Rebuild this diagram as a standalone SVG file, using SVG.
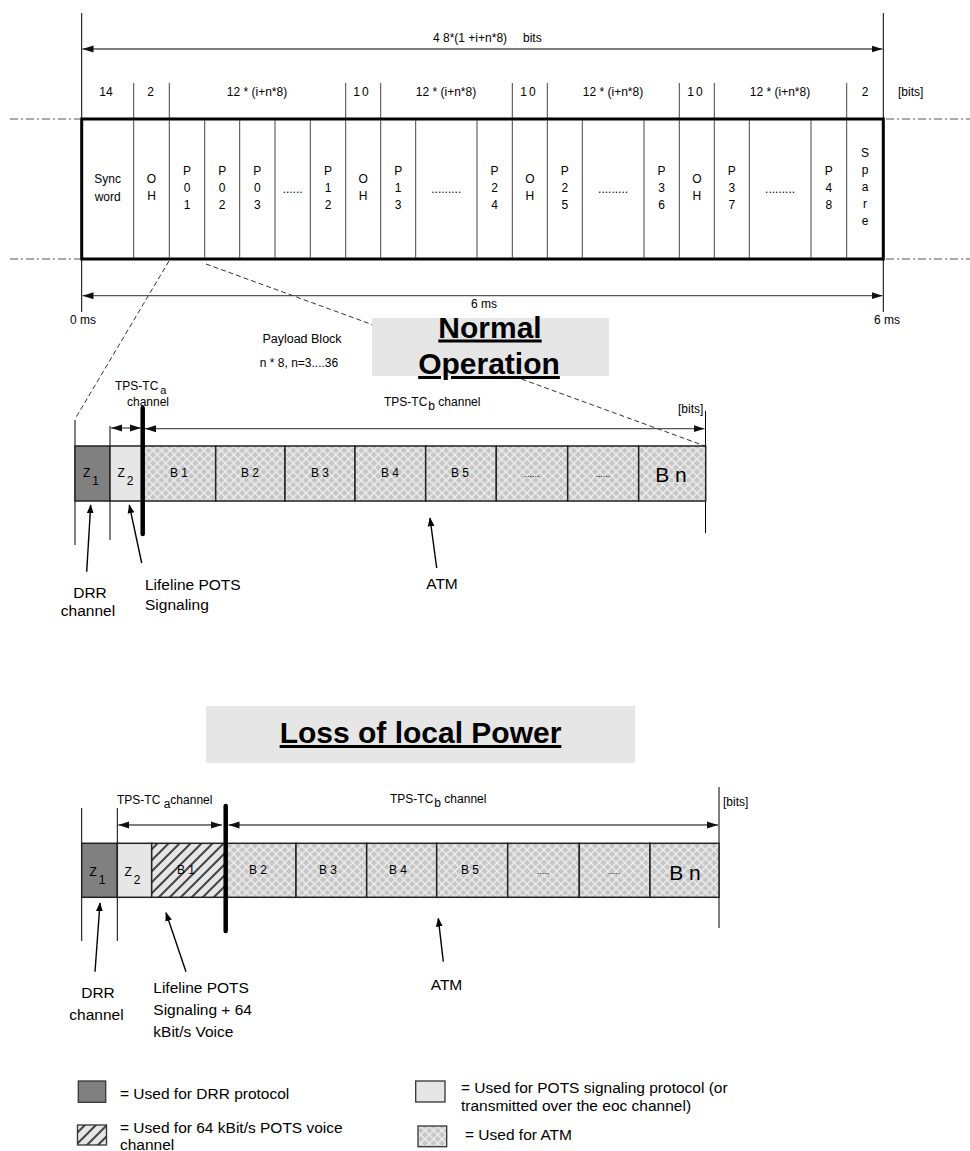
<svg xmlns="http://www.w3.org/2000/svg" width="970" height="1151" viewBox="0 0 970 1151">
<style>
text{font-family:"Liberation Sans",Arial,sans-serif;fill:#000}
.s12{font-size:12px}
.s15{font-size:15.5px}
.mid{text-anchor:middle}
.title{font-size:30px;font-weight:bold;text-decoration:underline;text-anchor:middle}
.thin{stroke:#444;stroke-width:1;fill:none}
.blk{stroke:#000;stroke-width:1;fill:none}
.dim{stroke:#555;stroke-width:1.3;fill:none;marker-end:url(#ah);marker-start:url(#ah)}
.dd{stroke:#555;stroke-width:1;stroke-dasharray:8 3 2 3;fill:none}
.dash{stroke:#333;stroke-width:1;stroke-dasharray:5 3;fill:none}
.ptr{stroke:#000;stroke-width:1.4;fill:none;marker-end:url(#ph)}
.cell{stroke:#222;stroke-width:1.5}
.thick{stroke:#000;stroke-width:4.5;stroke-linecap:round}
</style>
<defs>
<marker id="ah" markerUnits="userSpaceOnUse" markerWidth="12" markerHeight="8" refX="11" refY="4" orient="auto-start-reverse"><path d="M0,0.5 L11,4 L0,7.5 z" fill="#111"/></marker>
<marker id="ph" markerUnits="userSpaceOnUse" markerWidth="9" markerHeight="12" refX="11" refY="4.5" orient="auto" viewBox="0 0 12 9"><path d="M0,0 L12,4.5 L0,9 z" fill="#000"/></marker>
<pattern id="atm" patternUnits="userSpaceOnUse" width="8.5" height="8.5">
<rect width="8.5" height="8.5" fill="#c6c6c6"/>
<path d="M-1,-1 L9.5,9.5 M9.5,-1 L-1,9.5" stroke="#eeeeee" stroke-width="1.5"/>
</pattern>
<pattern id="hatch" patternUnits="userSpaceOnUse" width="11" height="11">
<rect width="11" height="11" fill="#e6e6e6"/>
<path d="M-1,12 L12,-1 M-3,3 L3,-3 M8,14 L14,8" stroke="#444" stroke-width="2"/>
</pattern>
</defs>
<rect width="970" height="1151" fill="#fff"/>

<g id="frame-dimensions">
<line class="blk" x1="81.7" y1="13" x2="81.7" y2="312"/>
<line class="blk" x1="883.3" y1="13" x2="883.3" y2="312"/>
<line class="dim" x1="82.5" y1="49" x2="882.5" y2="49"/>
<text class="s12" x="433" y="42">4 8*(1 +i+n*8)</text>
<text class="s12" x="523" y="42">bits</text>
<line class="dd" x1="10" y1="119" x2="80" y2="119"/>
<line class="dd" x1="10" y1="259" x2="80" y2="259"/>
<line class="dd" x1="886" y1="119" x2="970" y2="119"/>
<line class="dd" x1="886" y1="259" x2="970" y2="259"/>
<line class="dim" x1="82.5" y1="295.7" x2="882.5" y2="295.7"/>
<text class="s12 mid" x="484" y="308">6 ms</text>
<text class="s12 mid" x="83" y="324">0 ms</text>
<text class="s12 mid" x="887" y="324">6 ms</text>
</g>

<g id="frame-header">
<g class="thin">
<line x1="133.7" y1="83" x2="133.7" y2="119"/>
<line x1="169.3" y1="83" x2="169.3" y2="119"/>
<line x1="345.7" y1="83" x2="345.7" y2="119"/>
<line x1="380.7" y1="83" x2="380.7" y2="119"/>
<line x1="512.3" y1="83" x2="512.3" y2="119"/>
<line x1="547.3" y1="83" x2="547.3" y2="119"/>
<line x1="679.3" y1="83" x2="679.3" y2="119"/>
<line x1="714.3" y1="83" x2="714.3" y2="119"/>
<line x1="846.7" y1="83" x2="846.7" y2="119"/>
</g>
<text class="s12 mid" x="106" y="96">14</text>
<text class="s12 mid" x="150.5" y="96">2</text>
<text class="s12 mid" x="257" y="96">12 * (i+n*8)</text>
<text class="s12 mid" x="362" y="96" letter-spacing="2">10</text>
<text class="s12 mid" x="446" y="96">12 * (i+n*8)</text>
<text class="s12 mid" x="529" y="96" letter-spacing="2">10</text>
<text class="s12 mid" x="613" y="96">12 * (i+n*8)</text>
<text class="s12 mid" x="696" y="96" letter-spacing="2">10</text>
<text class="s12 mid" x="780" y="96">12 * (i+n*8)</text>
<text class="s12 mid" x="865" y="96">2</text>
<text class="s12" x="898" y="96">[bits]</text>
</g>

<g id="frame">
<rect x="81.7" y="119" width="801.6" height="140" fill="#fff" stroke="#000" stroke-width="3"/>
<g class="thin">
<line x1="133.7" y1="120" x2="133.7" y2="258"/>
<line x1="169.3" y1="120" x2="169.3" y2="258"/>
<line x1="204.7" y1="120" x2="204.7" y2="258"/>
<line x1="239.7" y1="120" x2="239.7" y2="258"/>
<line x1="275" y1="120" x2="275" y2="258"/>
<line x1="310.3" y1="120" x2="310.3" y2="258"/>
<line x1="345.7" y1="120" x2="345.7" y2="258"/>
<line x1="380.7" y1="120" x2="380.7" y2="258"/>
<line x1="415.7" y1="120" x2="415.7" y2="258"/>
<line x1="477" y1="120" x2="477" y2="258"/>
<line x1="512.3" y1="120" x2="512.3" y2="258"/>
<line x1="547.3" y1="120" x2="547.3" y2="258"/>
<line x1="582.3" y1="120" x2="582.3" y2="258"/>
<line x1="644" y1="120" x2="644" y2="258"/>
<line x1="679.3" y1="120" x2="679.3" y2="258"/>
<line x1="714.3" y1="120" x2="714.3" y2="258"/>
<line x1="749.3" y1="120" x2="749.3" y2="258"/>
<line x1="811" y1="120" x2="811" y2="258"/>
<line x1="846.7" y1="120" x2="846.7" y2="258"/>
</g>
</g>
<g id="cell-sync" class="s12"><text class="mid" x="107.7" y="183">Sync</text><text class="mid" x="107.7" y="201">word</text></g>
<g id="cell-oh1"><text class="s12 mid" x="151.5" y="183">O</text><text class="s12 mid" x="151.5" y="200">H</text></g>
<g id="cell-p01"><text class="s12 mid" x="187" y="175">P</text><text class="s12 mid" x="187" y="192">0</text><text class="s12 mid" x="187" y="209">1</text></g>
<g id="cell-p02"><text class="s12 mid" x="222.2" y="175">P</text><text class="s12 mid" x="222.2" y="192">0</text><text class="s12 mid" x="222.2" y="209">2</text></g>
<g id="cell-p03"><text class="s12 mid" x="257.3" y="175">P</text><text class="s12 mid" x="257.3" y="192">0</text><text class="s12 mid" x="257.3" y="209">3</text></g>
<g id="cell-dots1"><text class="s12 mid" x="292.6" y="193">......</text></g>
<g id="cell-p12"><text class="s12 mid" x="328" y="175">P</text><text class="s12 mid" x="328" y="192">1</text><text class="s12 mid" x="328" y="209">2</text></g>
<g id="cell-oh2"><text class="s12 mid" x="363.2" y="183">O</text><text class="s12 mid" x="363.2" y="200">H</text></g>
<g id="cell-p13"><text class="s12 mid" x="398.2" y="175">P</text><text class="s12 mid" x="398.2" y="192">1</text><text class="s12 mid" x="398.2" y="209">3</text></g>
<g id="cell-dots2"><text class="s12 mid" x="446.3" y="193">.........</text></g>
<g id="cell-p24"><text class="s12 mid" x="494.6" y="175">P</text><text class="s12 mid" x="494.6" y="192">2</text><text class="s12 mid" x="494.6" y="209">4</text></g>
<g id="cell-oh3"><text class="s12 mid" x="529.8" y="183">O</text><text class="s12 mid" x="529.8" y="200">H</text></g>
<g id="cell-p25"><text class="s12 mid" x="564.8" y="175">P</text><text class="s12 mid" x="564.8" y="192">2</text><text class="s12 mid" x="564.8" y="209">5</text></g>
<g id="cell-dots3"><text class="s12 mid" x="613.1" y="193">.........</text></g>
<g id="cell-p36"><text class="s12 mid" x="661.6" y="175">P</text><text class="s12 mid" x="661.6" y="192">3</text><text class="s12 mid" x="661.6" y="209">6</text></g>
<g id="cell-oh4"><text class="s12 mid" x="696.8" y="183">O</text><text class="s12 mid" x="696.8" y="200">H</text></g>
<g id="cell-p37"><text class="s12 mid" x="731.8" y="175">P</text><text class="s12 mid" x="731.8" y="192">3</text><text class="s12 mid" x="731.8" y="209">7</text></g>
<g id="cell-dots4"><text class="s12 mid" x="780.1" y="193">.........</text></g>
<g id="cell-p48"><text class="s12 mid" x="828.8" y="175">P</text><text class="s12 mid" x="828.8" y="192">4</text><text class="s12 mid" x="828.8" y="209">8</text></g>
<g id="cell-spare"><text class="s12 mid" x="865" y="157">S</text><text class="s12 mid" x="865" y="174">p</text><text class="s12 mid" x="865" y="191">a</text><text class="s12 mid" x="865" y="208">r</text><text class="s12 mid" x="865" y="225">e</text></g>

<g id="zoom-lines">
<line class="dash" x1="169" y1="261" x2="75" y2="419"/>
<line class="dash" x1="206" y1="264" x2="705" y2="446"/>
</g>

<g id="payload-label">
<text class="mid" x="302" y="343" font-size="12.5">Payload Block</text>
<text class="s12 mid" x="299" y="367">n * 8, n=3....36</text>
</g>

<g id="title-normal">
<rect x="372" y="318" width="237" height="58" fill="#e6e6e6"/>
<text class="title" x="490" y="337.5">Normal</text>
<text class="title" x="489" y="374">Operation</text>
</g>

<g id="normal-row">
<line class="blk" x1="75" y1="420" x2="75" y2="545" stroke="#333"/>
<line class="blk" x1="110" y1="426" x2="110" y2="540" stroke="#333"/>
<line class="blk" x1="705.5" y1="411" x2="705.5" y2="533" stroke="#333"/>
<g id="n-z1"><rect class="cell" x="75" y="446" width="35" height="55" fill="#808080"/><text class="s12 mid" x="91" y="477">Z<tspan dx="2" dy="8">1</tspan></text></g>
<g id="n-z2"><rect class="cell" x="110" y="446" width="32.7" height="55" fill="#e6e6e6"/><text class="s12 mid" x="125.5" y="477">Z<tspan dx="2" dy="8">2</tspan></text></g>
<g id="n-b1"><rect class="cell" x="142.7" y="446" width="73" height="55" fill="url(#atm)"/><text class="s12 mid" x="179" y="477">B 1</text></g>
<g id="n-b2"><rect class="cell" x="215.7" y="446" width="69.3" height="55" fill="url(#atm)"/><text class="s12 mid" x="250" y="477">B 2</text></g>
<g id="n-b3"><rect class="cell" x="285" y="446" width="70" height="55" fill="url(#atm)"/><text class="s12 mid" x="320" y="477">B 3</text></g>
<g id="n-b4"><rect class="cell" x="355" y="446" width="70.7" height="55" fill="url(#atm)"/><text class="s12 mid" x="390" y="477">B 4</text></g>
<g id="n-b5"><rect class="cell" x="425.7" y="446" width="70.6" height="55" fill="url(#atm)"/><text class="s12 mid" x="460" y="477">B 5</text></g>
<g id="n-d1"><rect class="cell" x="496.3" y="446" width="71.4" height="55" fill="url(#atm)"/><text class="mid" x="532" y="477" font-size="9">......</text></g>
<g id="n-d2"><rect class="cell" x="567.7" y="446" width="71" height="55" fill="url(#atm)"/><text class="mid" x="603" y="477" font-size="9">......</text></g>
<g id="n-bn"><rect class="cell" x="638.7" y="446" width="67" height="55" fill="url(#atm)"/><text class="mid" x="671" y="482" font-size="21">B n</text></g>
<line class="thick" x1="142.7" y1="408" x2="142.7" y2="534"/>
</g>

<g id="normal-labels">
<text class="s12" x="115" y="390">TPS-TC<tspan dx="2" dy="4" font-size="11">a</tspan></text>
<text class="s12" x="127" y="406">channel</text>
<text class="s12" x="384" y="406">TPS-TC<tspan dx="1" dy="4">b</tspan><tspan dy="-4"> channel</tspan></text>
<text class="s12" x="678" y="413">[bits]</text>
<text class="s15 mid" x="90" y="598">DRR</text>
<text class="s15 mid" x="88" y="616">channel</text>
<text class="s15" x="145" y="590">Lifeline POTS</text>
<text class="s15" x="145" y="610">Signaling</text>
<text class="s15 mid" x="442" y="589">ATM</text>
</g>

<g id="title-loss">
<rect x="206" y="706" width="429" height="57" fill="#e6e6e6"/>
<text class="title" x="420.5" y="743" font-size="31">Loss of local Power</text>
</g>

<g id="loss-row">
<line class="blk" x1="81.7" y1="808" x2="81.7" y2="941" stroke="#333"/>
<line class="blk" x1="117.3" y1="808" x2="117.3" y2="941" stroke="#333"/>
<line class="blk" x1="719" y1="787" x2="719" y2="928" stroke="#333"/>
<g id="l-z1"><rect class="cell" x="81.7" y="843.3" width="35.6" height="54" fill="#808080"/><text class="s12 mid" x="97.5" y="876">Z<tspan dx="2" dy="8">1</tspan></text></g>
<g id="l-z2"><rect class="cell" x="117.3" y="843.3" width="34.4" height="54" fill="#e6e6e6"/><text class="s12 mid" x="132.5" y="876">Z<tspan dx="2" dy="8">2</tspan></text></g>
<g id="l-b1"><rect class="cell" x="151.7" y="843.3" width="73.3" height="54" fill="url(#hatch)"/><text class="s12 mid" x="186" y="874">B 1</text></g>
<g id="l-b2"><rect class="cell" x="225" y="843.3" width="71" height="54" fill="url(#atm)"/><text class="s12 mid" x="258" y="874">B 2</text></g>
<g id="l-b3"><rect class="cell" x="296" y="843.3" width="70.7" height="54" fill="url(#atm)"/><text class="s12 mid" x="328" y="874">B 3</text></g>
<g id="l-b4"><rect class="cell" x="366.7" y="843.3" width="70" height="54" fill="url(#atm)"/><text class="s12 mid" x="398" y="874">B 4</text></g>
<g id="l-b5"><rect class="cell" x="436.7" y="843.3" width="71" height="54" fill="url(#atm)"/><text class="s12 mid" x="470" y="874">B 5</text></g>
<g id="l-d1"><rect class="cell" x="507.7" y="843.3" width="71.6" height="54" fill="url(#atm)"/><text class="mid" x="543" y="874" font-size="9">.....</text></g>
<g id="l-d2"><rect class="cell" x="579.3" y="843.3" width="70.7" height="54" fill="url(#atm)"/><text class="mid" x="614" y="874" font-size="9">.....</text></g>
<g id="l-bn"><rect class="cell" x="650" y="843.3" width="69" height="54" fill="url(#atm)"/><text class="mid" x="685" y="880" font-size="21">B n</text></g>
<line class="thick" x1="225.7" y1="806" x2="225.7" y2="931"/>
</g>

<g id="loss-labels">
<text class="s12" x="117" y="804">TPS-TC <tspan dy="4">a</tspan><tspan dy="-4">channel</tspan></text>
<text class="s12" x="390" y="803">TPS-TC<tspan dx="1" dy="4">b</tspan><tspan dy="-4"> channel</tspan></text>
<text class="s12" x="723" y="806">[bits]</text>
<text class="s15 mid" x="98" y="998">DRR</text>
<text class="s15 mid" x="96.5" y="1020">channel</text>
<text class="s15" x="153.3" y="993">Lifeline POTS</text>
<text class="s15" x="153.3" y="1015">Signaling + 64</text>
<text class="s15" x="153.3" y="1037">kBit/s Voice</text>
<text class="s15 mid" x="446.5" y="990">ATM</text>
</g>

<g id="connectors">
<line class="dim" x1="111" y1="428" x2="141" y2="428"/>
<line class="dim" x1="145" y1="428.7" x2="704.5" y2="428.7"/>
<line class="dim" x1="118.3" y1="825" x2="222" y2="825"/>
<line class="dim" x1="228.5" y1="825" x2="718" y2="825"/>
<line class="ptr" x1="86.7" y1="571.7" x2="90.7" y2="505"/>
<line class="ptr" x1="141.7" y1="563" x2="129.3" y2="505"/>
<line class="ptr" x1="436.7" y1="568" x2="430" y2="518"/>
<line class="ptr" x1="95" y1="971.7" x2="100" y2="903"/>
<line class="ptr" x1="186" y1="971.7" x2="166" y2="912.7"/>
<line class="ptr" x1="443.3" y1="961.7" x2="438.3" y2="918.3"/>
</g>

<g id="legend">
<g id="legend-drr"><rect x="78.3" y="1081" width="27.4" height="21.3" fill="#808080" stroke="#333" stroke-width="1.3"/><text class="s15" x="120" y="1099">= Used for DRR protocol</text></g>
<g id="legend-voice"><rect x="77.5" y="1125" width="29" height="20" fill="url(#hatch)" stroke="#333" stroke-width="1.3"/><text class="s15" x="120" y="1133">= Used for 64 kBit/s POTS voice</text><text class="s15" x="120" y="1150">channel</text></g>
<g id="legend-pots"><rect x="415.7" y="1081" width="29.3" height="21" fill="#e6e6e6" stroke="#333" stroke-width="1.3"/><text class="s15" x="461" y="1093">= Used for POTS signaling protocol (or</text><text class="s15" x="461" y="1111">transmitted over the eoc channel)</text></g>
<g id="legend-atm"><rect x="418" y="1126" width="28.7" height="20.7" fill="url(#atm)" stroke="#333" stroke-width="1.3"/><text class="s15" x="465" y="1140">= Used for ATM</text></g>
</g>
</svg>
